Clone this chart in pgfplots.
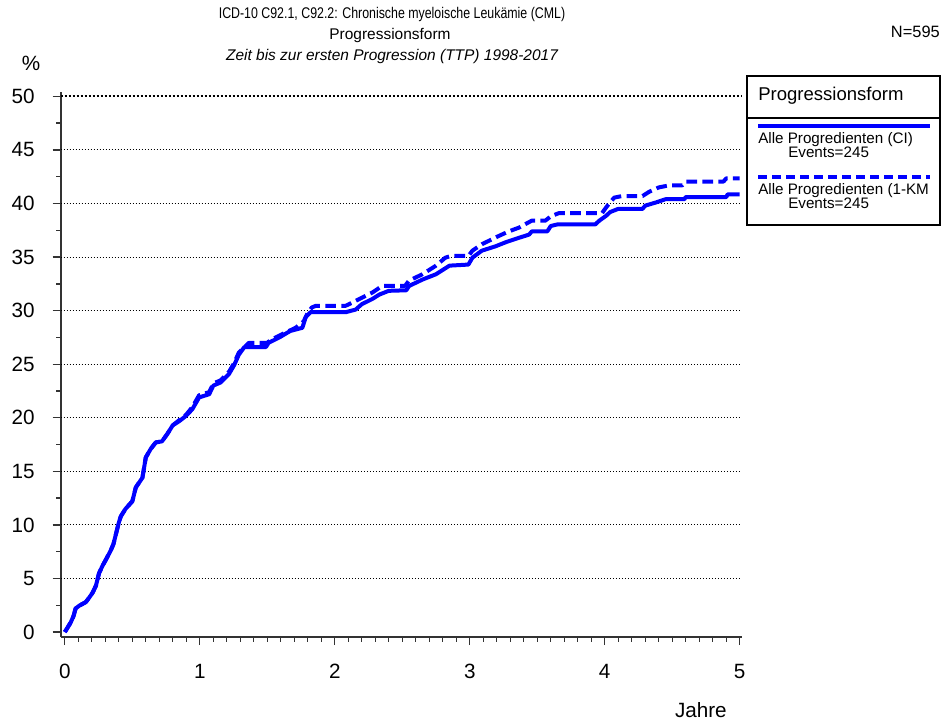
\documentclass[border=0pt]{standalone}
\usepackage{fontspec}
\setmainfont{Liberation Sans}
\usepackage{graphicx}
\usepackage{pgfplots}
\usepackage{pgfplotstable}
\pgfplotsset{compat=1.18}

\definecolor{kmblue}{RGB}{0,0,255}

% cumulative progression (%), CI estimate
\pgfplotstableread{
x y
0 0
0.02 0.4
0.044 0.9
0.065 1.5
0.08 2.2
0.106 2.45
0.156 2.8
0.18 3.2
0.205 3.65
0.23 4.3
0.254 5.5
0.28 6.2
0.30 6.65
0.34 7.6
0.36 8.2
0.378 9.1
0.40 10.2
0.415 10.8
0.45 11.5
0.50 12.2
0.526 13.5
0.575 14.4
0.60 16.3
0.637 17.1
0.674 17.7
0.72 17.8
0.76 18.5
0.80 19.3
0.85 19.7
0.90 20.2
0.945 20.8
0.995 21.9
1.07 22.2
1.10 23.0
1.155 23.3
1.217 24.1
1.254 24.9
1.29 25.9
1.33 26.6
1.49 26.6
1.51 27.0
1.59 27.5
1.67 28.1
1.76 28.4
1.785 29.4
1.82 29.85
2.08 29.85
2.155 30.1
2.20 30.6
2.28 31.1
2.33 31.5
2.40 31.85
2.53 31.9
2.55 32.3
2.65 32.9
2.75 33.4
2.85 34.2
2.99 34.3
3.02 34.95
3.09 35.6
3.19 36.0
3.27 36.4
3.365 36.8
3.44 37.1
3.46 37.4
3.575 37.4
3.60 37.9
3.65 38.05
3.93 38.05
3.96 38.4
4.01 38.85
4.04 39.2
4.10 39.5
4.28 39.5
4.30 39.8
4.38 40.1
4.45 40.4
4.59 40.4
4.60 40.6
4.90 40.6
4.91 40.85
5.00 40.85
}\cidata

% cumulative progression (%), 1-KM estimate
\pgfplotstableread{
x y
0 0
0.02 0.4
0.044 0.9
0.065 1.5
0.08 2.2
0.106 2.45
0.156 2.8
0.18 3.2
0.205 3.65
0.23 4.3
0.254 5.5
0.28 6.2
0.30 6.65
0.34 7.6
0.36 8.2
0.378 9.1
0.40 10.2
0.415 10.8
0.45 11.5
0.50 12.2
0.526 13.5
0.575 14.4
0.60 16.3
0.637 17.1
0.674 17.7
0.72 17.8
0.76 18.5
0.80 19.3
0.85 19.8
0.90 20.3
0.945 21.0
0.995 22.1
1.07 22.4
1.10 23.2
1.155 23.5
1.217 24.3
1.254 25.1
1.29 26.1
1.365 27.0
1.50 27.0
1.53 27.3
1.61 27.8
1.71 28.4
1.77 29.0
1.80 29.8
1.83 30.3
1.86 30.45
2.08 30.45
2.13 30.75
2.20 31.2
2.28 31.7
2.35 32.3
2.52 32.3
2.55 32.8
2.65 33.4
2.75 34.2
2.82 34.95
2.86 35.1
2.99 35.1
3.02 35.6
3.09 36.2
3.22 37.0
3.29 37.4
3.365 37.75
3.43 38.2
3.46 38.4
3.56 38.4
3.60 38.8
3.66 39.1
3.98 39.1
4.02 39.8
4.07 40.55
4.13 40.7
4.28 40.7
4.33 41.1
4.40 41.5
4.48 41.7
4.575 41.7
4.60 42.05
4.88 42.05
4.90 42.35
5.00 42.35
}\kmdata

\newcommand{\fs}[1]{\fontsize{#1}{1.15\dimexpr#1\relax}\selectfont}

\begin{document}
\begin{tikzpicture}[x=0.75pt,y=0.75pt]
  \path[use as bounding box] (0,0) rectangle (941,726);

  % titles
  \node[font=\fs{11.6pt}] at (392,711)
    {\scalebox{0.8}[1]{ICD-10 C92.1, C92.2: Chronische myeloische Leukämie (CML)}};
  \node[font=\fs{11.6pt}] at (390,690) {Progressionsform};
  \node[font=\fs{11.6pt}\itshape] at (392,669) {Zeit bis zur ersten Progression (TTP) 1998-2017};
  \node[font=\fs{12.3pt}, anchor=east, inner sep=0pt] at (940,694) {N=595};
  \node[font=\fs{15.5pt}] at (31,663) {\%};
  \node[font=\fs{15.5pt}, anchor=east, inner sep=0pt] at (727,16) {Jahre};

  \begin{axis}[
    at={(45,83)}, anchor=south west,
    scale only axis,
    width=510.75pt, height=408.75pt,
    xmin=-0.03, xmax=5.015,
    ymin=-0.47, ymax=50.4,
    axis x line*=bottom, axis y line*=left,
    axis line style={-, line width=1.2pt, black!80},
    x axis line style={-}, y axis line style={-},
    xtick={0,1,...,5}, minor x tick num=9,
    ytick={0,5,...,50}, minor y tick num=1,
    tick align=outside,
    major tick length=6pt, minor tick length=3.5pt,
    tick style={black!80, line width=1pt},
    /pgf/number format/assume math mode=true,
    ticklabel style={font=\fs{15.5pt}},
    xticklabel style={yshift=-11pt},
    yticklabel style={xshift=-10pt},
    clip=false,
  ]
    % horizontal reference lines
    \pgfplotsinvokeforeach{5,10,...,45}{
      \draw[black, line width=0.75pt, dash pattern=on 0.75pt off 1.5pt]
        (axis cs:-0.03,#1) -- (axis cs:5.015,#1);
    }
    \draw[black, line width=1.5pt, dash pattern=on 1.5pt off 1.5pt]
      (axis cs:-0.03,50) -- (axis cs:5.015,50);

    \addplot[kmblue, line width=3pt, line join=round] table {\cidata};
    \addplot[kmblue, line width=3pt, line join=round,
             dash pattern=on 8pt off 4pt] table {\kmdata};
  \end{axis}

  % legend box
  \draw[black, line width=1pt] (747,650) rectangle (940,501);
  \draw[black, line width=1pt] (747,608) -- (940,608);
  \node[font=\fs{13.9pt}, anchor=west, inner sep=0pt] at (758,630) {Progressionsform};
  \draw[kmblue, line width=2.6pt] (758,600) -- (930,600);
  \node[font=\fs{11.4pt}, anchor=west, inner sep=0pt] at (758,586) {Alle Progredienten (CI)};
  \node[font=\fs{11.4pt}, anchor=west, inner sep=0pt] at (788,574) {Events=245};
  \draw[kmblue, line width=2.6pt, dash pattern=on 7pt off 3.5pt] (758,549) -- (930,549);
  \node[font=\fs{11.4pt}, anchor=west, inner sep=0pt] at (758,535) {Alle Progredienten (1-KM};
  \node[font=\fs{11.4pt}, anchor=west, inner sep=0pt] at (788,523) {Events=245};
\end{tikzpicture}
\end{document}
